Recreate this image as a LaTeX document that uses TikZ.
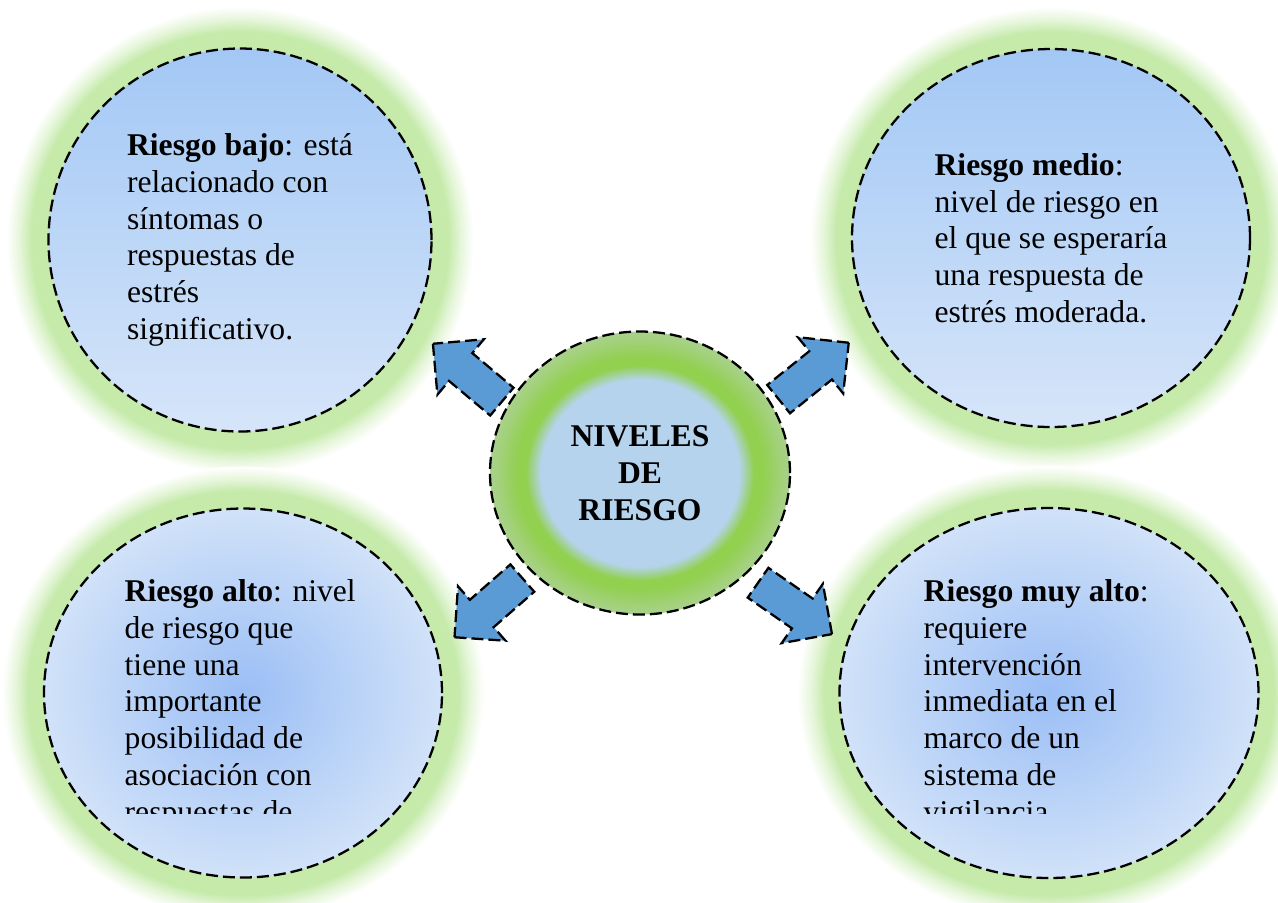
\documentclass[tikz,border=0pt]{standalone}
\usepackage{fontspec}
\setmainfont{Liberation Serif}
\usetikzlibrary{shapes.geometric, shapes.arrows, positioning}

\definecolor{halo}{RGB}{197,234,170}
\definecolor{azulclaro}{RGB}{214,229,249}
\definecolor{azuloscuro}{RGB}{163,200,245}
\definecolor{azulcentro}{RGB}{181,211,237}
\definecolor{verdecentro}{RGB}{146,208,80}
\definecolor{verdeborde}{RGB}{170,209,142}
\definecolor{flechaazul}{RGB}{91,155,213}

\pgfdeclareradialshading{halo}{\pgfpoint{0bp}{0bp}}{color(0bp)=(halo); color(22.3bp)=(halo); color(23.6bp)=(halo!45!white); color(25bp)=(white); color(50bp)=(white)}
\pgfdeclareradialshading{anillo}{\pgfpoint{0bp}{0bp}}{color(0bp)=(azulcentro); color(16.5bp)=(azulcentro); color(19bp)=(verdecentro); color(20.5bp)=(verdecentro); color(25bp)=(verdeborde); color(50bp)=(verdeborde)}

\begin{document}
\begin{tikzpicture}[
  nivel/.style={ellipse, draw, dash pattern=on 1.2mm off 0.5mm, line width=0.65pt, inner sep=0pt, align=left, font=\fontsize{9pt}{10.45pt}\selectfont},
  brillo/.style={ellipse, inner sep=0pt, shading=halo},
  lineal/.style={shading angle=45, top color=azuloscuro, bottom color=azulclaro},
  radial/.style={inner color=azuloscuro!95!blue, outer color=azulclaro!90!azuloscuro},
  texto/.style={inner sep=0pt, align=left, anchor=base west, font=\fontsize{9pt}{10.45pt}\selectfont},
  flecha/.style={single arrow, draw, fill=flechaazul, dash pattern=on 1.2mm off 0.5mm, line width=0.65pt, inner xsep=0pt, inner ysep=0.17cm, minimum height=0.90cm, single arrow head extend=0.18cm, anchor=tip}
]
\path[use as bounding box, fill=white] (0,0) rectangle (12.78,-9.02);

% Halos
\node[brillo, minimum width=4.67cm, minimum height=4.67cm] (bajohalo) at (2.40,-2.40) {};
\node[brillo, minimum width=4.82cm, minimum height=4.62cm] (mediohalo) at (10.51,-2.38) {};
\node[brillo, minimum width=4.82cm, minimum height=4.53cm] (altohalo) at (2.43,-6.93) {};
\node[brillo, minimum width=5.03cm, minimum height=4.54cm] (muyaltohalo) at (10.49,-6.93) {};

% Circulos
\node[nivel, lineal, minimum width=3.83cm, minimum height=3.83cm] (bajo) at (bajohalo) {\textbf{Riesgo bajo}: está\\relacionado con\\síntomas o\\respuestas de\\estrés\\significativo.};
\node[nivel, lineal, minimum width=3.98cm, minimum height=3.78cm] (medio) at (mediohalo) {\textbf{Riesgo medio}:\\nivel de riesgo en\\el que se esperaría\\una respuesta de\\estrés moderada.};
\node[nivel, radial, minimum width=3.98cm, minimum height=3.69cm] (alto) at (altohalo) {};
\node[nivel, radial, minimum width=4.19cm, minimum height=3.70cm] (muyalto) at (muyaltohalo) {};

\begin{scope}
\clip (0,-5) rectangle (12.78,-8.13);
\node[texto] (altotexto) at (1.24,-8.22) {\textbf{Riesgo alto}: nivel\\de riesgo que\\tiene una\\importante\\posibilidad de\\asociación con\\respuestas de};
\node[texto] (muyaltotexto) at (9.23,-8.22) {\textbf{Riesgo muy alto}:\\requiere\\intervención\\inmediata en el\\marco de un\\sistema de\\vigilancia};
\end{scope}

% Centro
\node[nivel, shading=anillo, minimum width=3.00cm, minimum height=2.83cm, align=center, font=\fontsize{9pt}{10.45pt}\selectfont\bfseries] (centro) at (6.40,-4.73) {NIVELES\\DE\\RIESGO};

% Flechas
\node[flecha, rotate=140] (haciabajo) at (4.317,-3.427) {};
\node[flecha, rotate=38.8] (haciamedio) at (8.50,-3.417) {};
\node[flecha, rotate=221.1] (haciaalto) at (4.533,-6.383) {};
\node[flecha, rotate=-34.8] (haciamuyalto) at (8.333,-6.35) {};

\end{tikzpicture}
\end{document}
